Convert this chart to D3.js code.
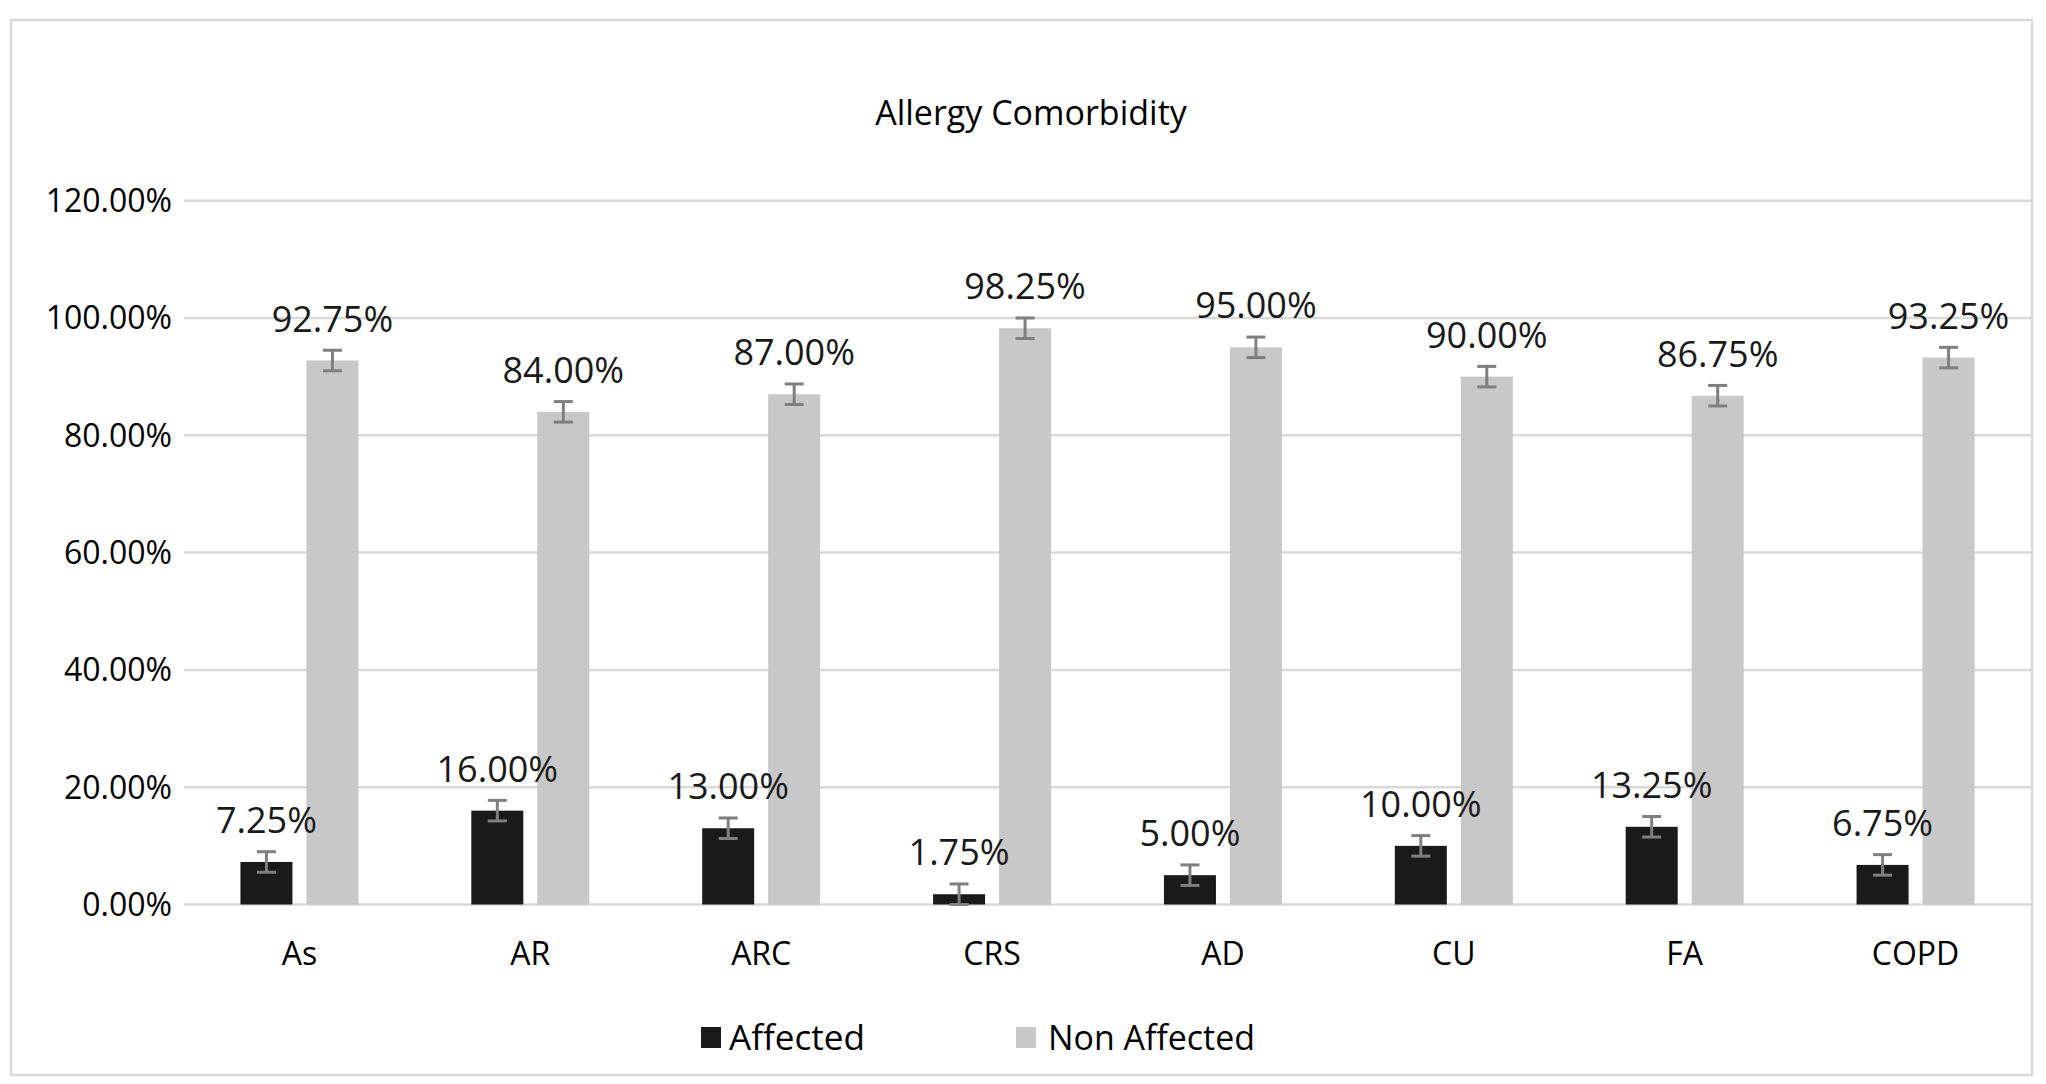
<!DOCTYPE html>
<html>
<head>
<meta charset="utf-8">
<script src="https://cdn.jsdelivr.net/npm/d3@7"></script>
<style>
  html, body { margin: 0; padding: 0; background: #fff; }
  svg { display: block; }
  text { font-family: "Open Sans", "Noto Sans", sans-serif; }
</style>
</head>
<body>
<svg id="chart" width="2046" height="1084"></svg>
<script>
const title = "Allergy Comorbidity";
const categories = ["As", "AR", "ARC", "CRS", "AD", "CU", "FA", "COPD"];
const seriesNames = ["Affected", "Non Affected"];
const affected = [7.25, 16.00, 13.00, 1.75, 5.00, 10.00, 13.25, 6.75];
const nonAffected = [92.75, 84.00, 87.00, 98.25, 95.00, 90.00, 86.75, 93.25];
const affectedErr = [1.75, 1.75, 1.75, 1.75, 1.75, 1.75, 1.75, 1.75];
const nonAffectedErr = [1.75, 1.75, 1.75, 1.75, 1.75, 1.75, 1.75, 1.75];
const yTicks = [0, 20, 40, 60, 80, 100, 120];
const colors = ["#1a1a1a", "#c8c8c8"];

const svg = d3.select("#chart");

// outer border
svg.append("rect")
  .attr("x", 11).attr("y", 20).attr("width", 2021).attr("height", 1055)
  .attr("fill", "#fff").attr("stroke", "#d9d9d9").attr("stroke-width", 2.5);

const plotLeft = 184, plotRight = 2031, plotTop = 200.7, plotBottom = 904.5;

const x = d3.scaleBand().domain(categories).range([plotLeft, plotRight]).padding(0);
const bw = x.bandwidth();
const x1 = d3.scaleBand().domain(seriesNames)
  .range([bw * 0.5 - 59, bw * 0.5 + 59]).paddingInner(0.212).paddingOuter(0);
const y = d3.scaleLinear().domain([0, 120]).range([plotBottom, plotTop]);

// title
svg.append("text")
  .attr("x", 1031).attr("y", 125)
  .attr("text-anchor", "middle")
  .attr("font-size", 34).attr("fill", "#000")
  .text(title);

// gridlines
svg.append("g").selectAll("line").data(yTicks).join("line")
  .attr("x1", plotLeft).attr("x2", plotRight)
  .attr("y1", d => y(d)).attr("y2", d => y(d))
  .attr("stroke", "#d9d9d9").attr("stroke-width", 2.5);

// y axis labels
const yAxis = d3.axisLeft(y).tickValues(yTicks).tickSize(0).tickPadding(0)
  .tickFormat(d => d.toFixed(2) + "%");
const gy = svg.append("g").attr("transform", `translate(172,0)`).call(yAxis);
gy.select(".domain").remove();
gy.selectAll("text").attr("font-size", 32).attr("fill", "#000")
  .attr("font-family", "'Open Sans', sans-serif").attr("dy", "0.34em");

// x axis labels
const xAxis = d3.axisBottom(x).tickSize(0).tickPadding(0);
const gx = svg.append("g").attr("transform", `translate(0,${plotBottom})`).call(xAxis);
gx.select(".domain").remove();
gx.selectAll("text").attr("font-size", 32).attr("fill", "#000")
  .attr("font-family", "'Open Sans', sans-serif").attr("dy", 0).attr("y", 60);

const data = categories.map((c, i) => ({
  cat: c,
  vals: [
    { s: seriesNames[0], v: affected[i], e: affectedErr[i], c: colors[0] },
    { s: seriesNames[1], v: nonAffected[i], e: nonAffectedErr[i], c: colors[1] }
  ]
}));

const groups = svg.append("g").selectAll("g").data(data).join("g")
  .attr("transform", d => `translate(${x(d.cat)},0)`);

groups.selectAll("rect").data(d => d.vals).join("rect")
  .attr("x", d => x1(d.s))
  .attr("width", x1.bandwidth())
  .attr("y", d => y(d.v))
  .attr("height", d => y(0) - y(d.v))
  .attr("fill", d => d.c);

// error bars
const eb = groups.selectAll("g.err").data(d => d.vals).join("g").attr("class", "err");
const cx = d => x1(d.s) + x1.bandwidth() / 2;
eb.append("line")
  .attr("x1", cx).attr("x2", cx)
  .attr("y1", d => y(d.v + d.e)).attr("y2", d => y(Math.max(0, d.v - d.e)))
  .attr("stroke", "#7f7f7f").attr("stroke-width", 3);
eb.append("line")
  .attr("x1", d => cx(d) - 9.5).attr("x2", d => cx(d) + 9.5)
  .attr("y1", d => y(d.v + d.e)).attr("y2", d => y(d.v + d.e))
  .attr("stroke", "#7f7f7f").attr("stroke-width", 3);
eb.append("line")
  .attr("x1", d => cx(d) - 9.5).attr("x2", d => cx(d) + 9.5)
  .attr("y1", d => y(Math.max(0, d.v - d.e))).attr("y2", d => y(Math.max(0, d.v - d.e)))
  .attr("stroke", "#7f7f7f").attr("stroke-width", 3);

// value labels
groups.selectAll("text.val").data(d => d.vals).join("text").attr("class", "val")
  .attr("x", cx)
  .attr("y", d => y(d.v) - 29)
  .attr("text-anchor", "middle")
  .attr("font-size", 36).attr("fill", "#1a1a1a")
  .text(d => d.v.toFixed(2) + "%");

// legend
const legendItems = [
  { name: seriesNames[0], color: colors[0], sx: 701, tx: 729, tw: 136 },
  { name: seriesNames[1], color: colors[1], sx: 1016, tx: 1048, tw: 207 }
];
const lg = svg.append("g").selectAll("g").data(legendItems).join("g");
lg.append("rect")
  .attr("x", d => d.sx).attr("y", 1027).attr("width", 20).attr("height", 21)
  .attr("fill", d => d.color);
lg.append("text")
  .attr("x", d => d.tx).attr("y", 1050)
  .attr("font-size", 34).attr("fill", "#000")
  .attr("textLength", d => d.tw).attr("lengthAdjust", "spacingAndGlyphs")
  .text(d => d.name);
</script>
</body>
</html>
